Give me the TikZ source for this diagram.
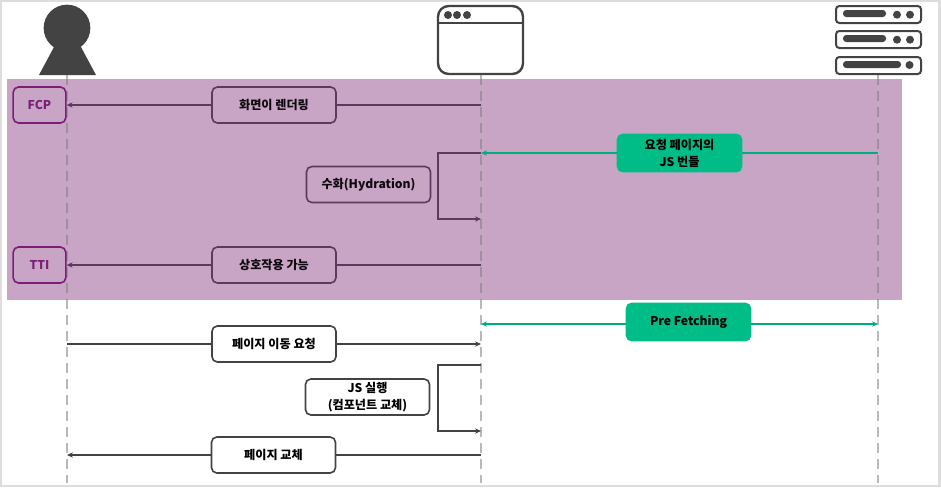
\documentclass[tikz,border=0pt]{standalone}
\usepackage{fontspec}
\setmainfont{Noto Sans CJK KR}
\usepackage{xcolor}
\usetikzlibrary{positioning, arrows.meta, calc}
\definecolor{iconGray}{HTML}{434343}
\definecolor{bandPurple}{HTML}{C8A5C5}
\definecolor{darkPurple}{HTML}{5A3A5E}
\definecolor{metricPurple}{HTML}{7B1E7A}
\definecolor{fetchGreen}{HTML}{00BC87}
\definecolor{frameGray}{HTML}{DDDDDD}

\begin{document}
\begin{tikzpicture}[
  x=0.75pt, y=-0.75pt,
  msg/.style={draw, rounded corners=4pt, line width=1.2pt, minimum width=93pt,
              minimum height=27pt, inner sep=0pt, align=center,
              font=\fontsize{9.1pt}{12.6pt}\selectfont\bfseries},
  plainmsg/.style={msg, draw=iconGray, fill=white},
  bandmsg/.style={msg, draw=darkPurple, text=black!85!darkPurple},
  greenmsg/.style={msg, draw=fetchGreen, fill=fetchGreen, minimum height=28pt},
  metric/.style={msg, draw=metricPurple, text=metricPurple, minimum width=39.5pt},
  lifeline/.style={gray, opacity=0.55, line width=1.1pt, dash pattern=on 7.5pt off 4.5pt},
  arr/.style={-{Stealth[length=4.5pt, width=4pt]}, line width=1.3pt},
  link/.style={line width=1.3pt},
  icon/.style={draw=iconGray, line width=1.8pt},
  rack/.style={draw=iconGray, line width=1.5pt, rounded corners=2.5pt},
]
\useasboundingbox (0,0) rectangle (941,487);
\draw[frameGray, line width=1.6pt] (1,1) rectangle (939.5,486);
\fill[bandPurple] (7,79) rectangle (902,300);

% lifelines
\coordinate (userTop) at (67,75);
\coordinate (userEnd) at (67,483);
\coordinate (browserTop) at (481,75);
\coordinate (browserEnd) at (481,483);
\coordinate (serverTop) at (878,75);
\coordinate (serverEnd) at (878,483);
\draw[lifeline] (userTop) -- (userEnd);
\draw[lifeline] (browserTop) -- (browserEnd);
\draw[lifeline] (serverTop) -- (serverEnd);

% user
\fill[iconGray] (39,75) -- (54,47) -- (81,47) -- (96,75) -- cycle;
\fill[iconGray] (67,28) circle[radius=17.5pt];

% browser
\draw[icon, rounded corners=8pt] (438,6) rectangle (523,74);
\draw[icon] (438,23) -- (523,23);
\foreach \dotx in {448,457,467}
  \fill[iconGray] (\dotx,15) circle[radius=3pt];

% server
\foreach \racky in {6,31}{
  \draw[rack] (836,\racky) rectangle (921,\racky+17);
  \fill[iconGray, rounded corners=2.4pt] (843,\racky+4) rectangle (886,\racky+11);
  \fill[iconGray] (897,\racky+8.7) circle[radius=3pt];
  \fill[iconGray] (910,\racky+8.7) circle[radius=3pt];
}
\draw[rack] (836,57) rectangle (921,74);
\fill[iconGray, rounded corners=2.4pt] (843,61) rectangle (901,68);
\fill[iconGray] (909.5,65) circle[radius=3pt];

% messages
\node[metric] (fcp) at (39.5,105) {FCP};
\node[metric] (tti) at (39.5,265) {TTI};
\node[bandmsg] (render) at (274,105) {화면이 렌더링};
\node[greenmsg] (bundle) at (679.5,153) {요청 페이지의\\JS 번들};
\node[bandmsg] (hydration) at (368.5,184.5) {수화(Hydration)};
\node[bandmsg] (interactive) at (274,265) {상호작용 가능};
\node[greenmsg] (prefetch) at (688.5,322) {Pre Fetching};
\node[plainmsg] (navigate) at (274,344) {페이지 이동 요청};
\node[plainmsg] (execute) at (367.5,397) {JS 실행\\(컴포넌트 교체)};
\node[plainmsg] (swap) at (273.5,455) {페이지 교체};

% band connectors
\draw[link, darkPurple] (render.east) -- (render.east-|browserTop);
\draw[arr, darkPurple] (render.west) -- (fcp.east);
\draw[link, fetchGreen!92!black] (bundle.east) -- (bundle.east-|serverTop);
\draw[arr, fetchGreen!92!black] (bundle.west) -- (bundle.west-|browserTop);
\coordinate (hydrationIn) at (481,153);
\coordinate (hydrationOut) at (481,219);
\draw[arr, darkPurple] (hydrationIn) -- (438,153) -- (438,219) -- (hydrationOut);
\draw[link, darkPurple] (interactive.east) -- (interactive.east-|browserTop);
\draw[arr, darkPurple] (interactive.west) -- (tti.east);

% connectors below the band
\coordinate (prefetchLeft) at (prefetch.west|-0,324);
\coordinate (prefetchRight) at (prefetch.east|-0,324);
\draw[arr, fetchGreen!92!black] (prefetchLeft) -- (prefetchLeft-|browserTop);
\draw[arr, fetchGreen!92!black] (prefetchRight) -- (prefetchRight-|serverTop);
\draw[link, iconGray] (navigate.west) -- (navigate.west-|userTop);
\draw[arr, iconGray] (navigate.east) -- (navigate.east-|browserTop);
\coordinate (executeIn) at (481,365);
\coordinate (executeOut) at (481,431);
\draw[arr, iconGray] (executeIn) -- (438,365) -- (438,431) -- (executeOut);
\draw[link, iconGray] (swap.east) -- (swap.east-|browserTop);
\draw[arr, iconGray] (swap.west) -- (swap.west-|userTop);
\end{tikzpicture}
\end{document}
